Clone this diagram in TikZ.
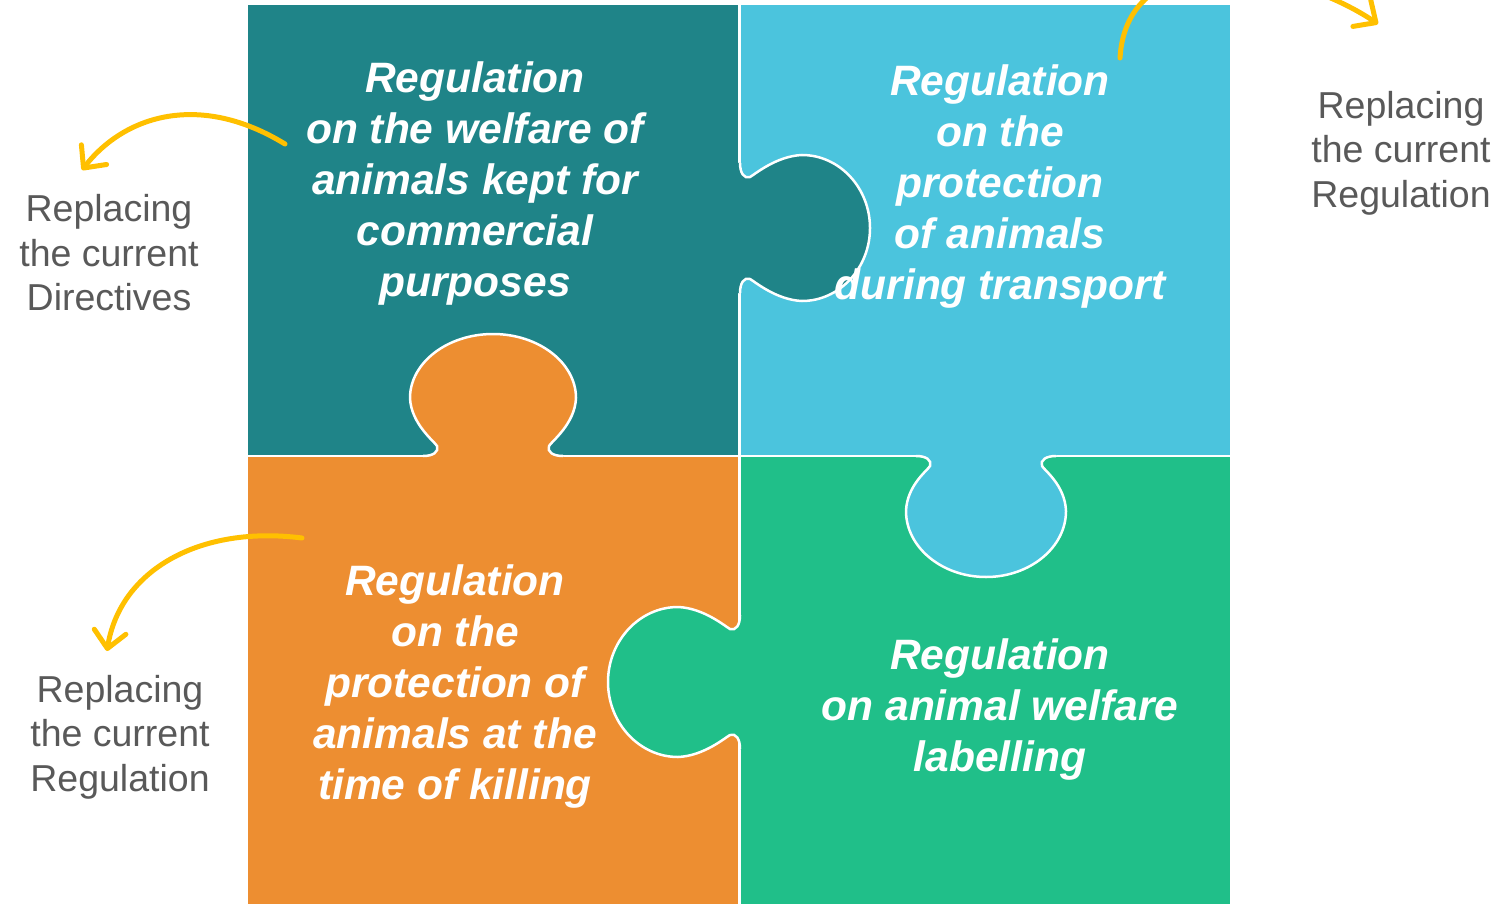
\documentclass[tikz,border=0pt]{standalone}
\usepackage{fontspec}
\setmainfont{Liberation Sans}
\usetikzlibrary{arrows.meta}
\definecolor{tealC}{RGB}{31,132,136}
\definecolor{blueC}{RGB}{75,196,221}
\definecolor{orangeC}{RGB}{237,142,49}
\definecolor{greenC}{RGB}{32,191,137}
\definecolor{yellowC}{RGB}{255,192,0}
\definecolor{grayT}{RGB}{89,89,89}
\tikzset{
  tabpath/.style n args={4}{insert path={
    ({-#1-14},0) .. controls ({-#1-4},0) and ({-#1+2},4) .. ({-#1},10)
    .. controls ({-#1-2},14) and ({-#2+1},{#4-26}) .. ({-#2},#4)
    .. controls ({-#2},{#4+0.55*(#3-#4)}) and ({-0.55*#2},#3) .. (0,#3)
    .. controls ({0.55*#2},#3) and ({#2},{#4+0.55*(#3-#4)}) .. ({#2},#4)
    .. controls ({#2-1},{#4-26}) and ({#1+2},14) .. ({#1},10)
    .. controls ({#1-2},4) and ({#1+4},0) .. ({#1+14},0)}},
  outline/.style={draw=white, line width=2.5pt},
  seam/.style={draw=white, line width=2.2pt},
  maintext/.style={text=white, inner sep=0pt, align=center,
    font=\fontsize{42.5}{51}\selectfont\bfseries\itshape},
  sidetext/.style={text=grayT, inner sep=0pt, align=center,
    font=\fontsize{37.5}{44.5}\selectfont},
  callout/.style={draw=yellowC, line width=5pt, line cap=round,
    -{Straight Barb[length=17pt,width=32pt,round]}}
}
\begin{document}
\begin{tikzpicture}[x=1pt,y=-1pt]
\useasboundingbox (0,0) rectangle (1498,904);
\clip (0,0) rectangle (1498,904);
% pieces
\fill[tealC] (248,5) rectangle (739.5,456);
\fill[blueC] (739.5,5) rectangle (1230,456);
\fill[orangeC] (248,456) rectangle (739.5,910);
\fill[greenC] (739.5,456) rectangle (1230,910);
\draw[seam] (739.5,5) -- (739.5,910);
\draw[seam] (248,456) -- (1230,456);
% tabs
\begin{scope}[shift={(740,228)}, rotate=90]
  \fill[tealC, tabpath={51}{73}{130}{62}] -- (65,-5) -- (-65,-5) -- cycle;
  \path[outline, tabpath={51}{73}{130}{62}];
\end{scope}
\begin{scope}[shift={(493,456)}, rotate=180]
  \fill[orangeC, tabpath={56}{83}{122}{58}] -- (70,-5) -- (-70,-5) -- cycle;
  \path[outline, tabpath={56}{83}{122}{58}];
\end{scope}
\begin{scope}[shift={(986,456)}]
  \fill[blueC, tabpath={56}{80}{121}{55}] -- (70,-5) -- (-70,-5) -- cycle;
  \path[outline, tabpath={56}{80}{121}{55}];
\end{scope}
\begin{scope}[shift={(740,682)}, rotate=-90]
  \fill[greenC, tabpath={53}{75}{132}{62}] -- (67,-5) -- (-67,-5) -- cycle;
  \path[outline, tabpath={53}{75}{132}{62}];
\end{scope}
% texts
\node[maintext] (tealtxt) at (475,184) {Regulation\\on the welfare of\\animals kept for\\commercial\\purposes};
\node[maintext] (bluetxt) at (1000,186.5) {Regulation\\on the\\protection\\of animals\\during transport};
\node[maintext] (orangetxt) at (455,687) {Regulation\\on the\\protection of\\animals at the\\time of killing};
\node[maintext] (greentxt) at (1000,710) {Regulation\\on animal welfare\\labelling};
\node[sidetext] (side1) at (109,253) {Replacing\\the current\\Directives};
\node[sidetext] (side2) at (1401,153) {Replacing\\the current\\Regulation};
\node[sidetext] (side3) at (120,737) {Replacing\\the current\\Regulation};
% callout arrows
\coordinate (a1s) at (285,144);
\coordinate (a1e) at (82,170);
\coordinate (a2s) at (1120,58);
\coordinate (a2e) at (1378,24);
\coordinate (a3s) at (302,538);
\coordinate (a3e) at (107,651);
\draw[callout] (a1s) .. controls (200,92) and (125,115) .. (a1e);
\draw[callout] (a2s) .. controls (1127,-60) and (1290,-35) .. (a2e);
\draw[callout] (a3s) .. controls (200,525) and (120,570) .. (a3e);
\end{tikzpicture}
\end{document}
